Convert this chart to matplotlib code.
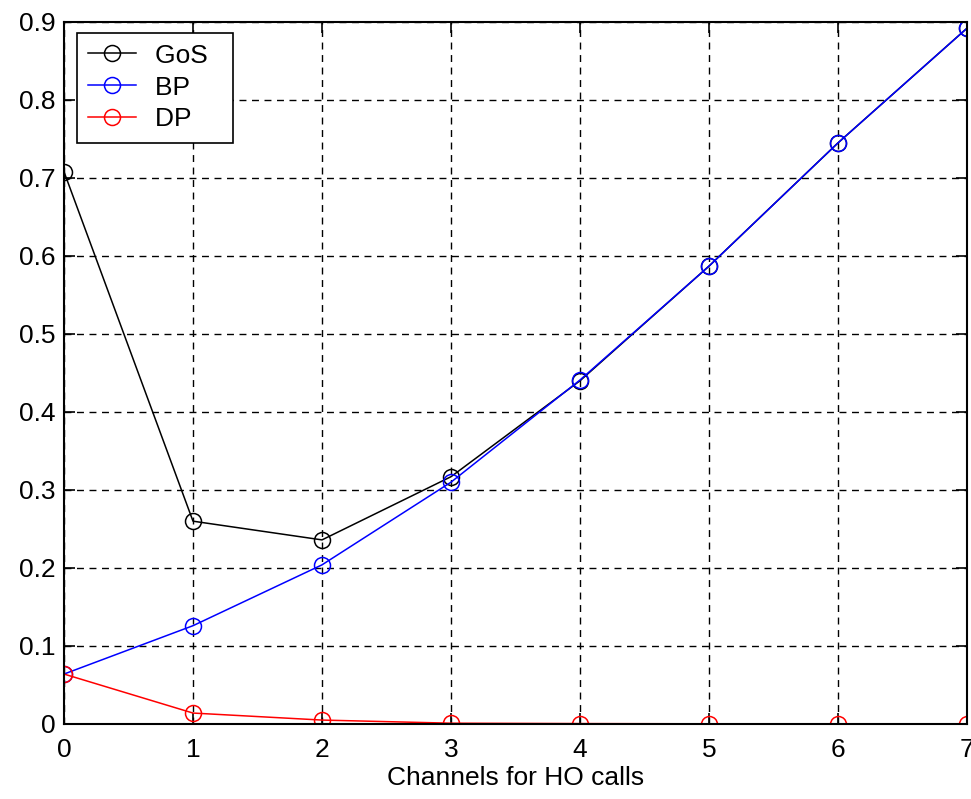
import numpy as np
import matplotlib
matplotlib.use('Agg')
import matplotlib.pyplot as plt

# channels reserved for handover calls
channels = [0, 1, 2, 3, 4, 5, 6, 7]

# grade of service, blocking and dropping probabilities
gos = [0.708, 0.260, 0.236, 0.317, 0.440, 0.587, 0.745, 0.892]
bp = [0.064, 0.126, 0.204, 0.310, 0.441, 0.587, 0.745, 0.892]
dp = [0.064, 0.014, 0.005, 0.001, 0.0005, 0.0002, 0.0001, 0.0]

plt.rcParams['font.family'] = ['Liberation Sans', 'DejaVu Sans']
plt.rcParams['font.size'] = 19

fig = plt.figure(figsize=(9.71, 7.99), dpi=100)
ax = fig.add_axes([0.0659, 0.0939, 0.9300, 0.8786])

mk = dict(marker='o', markersize=11.5, markerfacecolor='none', linewidth=1.1, markeredgewidth=1.1)
ax.plot(channels, gos, color='black', label='GoS', **mk)
ax.plot(channels, bp, color='blue', label='BP', **mk)
ax.plot(channels, dp, color='red', label='DP', **mk)

ax.set_xlim(0, 7)
ax.set_ylim(0, 0.9)
ax.set_xticks(range(8))
ax.set_yticks(np.arange(0, 0.91, 0.1))
ax.set_yticklabels(['0', '0.1', '0.2', '0.3', '0.4', '0.5', '0.6', '0.7', '0.8', '0.9'])
ax.grid(True, color='black', linestyle=(0, (5, 4)), linewidth=1.0)
ax.tick_params(direction='in', length=8, width=1.2, top=True, right=True)
ax.tick_params(axis='x', pad=10)
ax.tick_params(axis='y', pad=6)
for s in ax.spines.values():
    s.set_linewidth(1.5)

ax.set_xlabel('Channels for HO calls', labelpad=3)

leg = ax.legend(loc='upper left', bbox_to_anchor=(0.0145, 0.985), fancybox=False,
                framealpha=1, edgecolor='black', handlelength=1.8, borderpad=0.42,
                labelspacing=0.3, handletextpad=0.72, borderaxespad=0)
leg.get_frame().set_linewidth(1.2)
# a bit of extra room to the right of the labels
for t in leg.get_texts():
    t.set_text(t.get_text() + '  ')

fig.savefig('out.png', dpi=100)
